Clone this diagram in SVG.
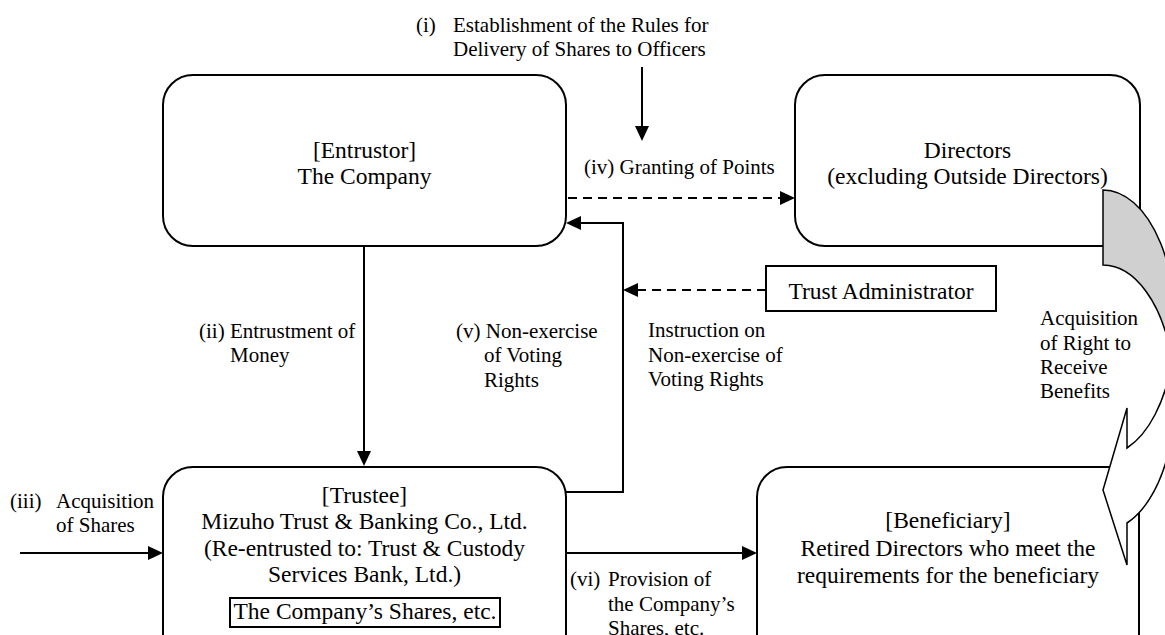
<svg xmlns="http://www.w3.org/2000/svg" width="1165" height="635" viewBox="0 0 1165 635">
<style>
  .node { fill: #ffffff; stroke: #000000; stroke-width: 2; }
  .t { font-family: "Liberation Serif", "Times New Roman", serif; font-size: 23.5px; fill: #000000; }
  .c { text-anchor: middle; }
  .lbl { font-family: "Liberation Serif", "Times New Roman", serif; font-size: 21px; fill: #000000; }
  .edge { fill: none; stroke: #000000; stroke-width: 2; }
  .dash { stroke-dasharray: 9 6; }
  .shape { stroke: #000000; stroke-width: 1.5; stroke-linejoin: miter; }
</style>
<defs>
  <marker id="ah" markerUnits="userSpaceOnUse" markerWidth="16" markerHeight="16" viewBox="0 -8 16 16" refX="1" refY="0" orient="auto">
    <path d="M0,-7 L15,0 L0,7 Z" fill="#000000"/>
  </marker>
</defs>
<rect width="1165" height="635" fill="#ffffff"/>

<g id="label-i">
  <text class="lbl" x="416" y="32">(i)</text>
  <text class="lbl" x="453" y="32">Establishment of the Rules for</text>
  <text class="lbl" x="453" y="56">Delivery of Shares to Officers</text>
</g>

<g id="node-entrustor">
  <rect class="node" x="163" y="75" width="403" height="171" rx="30" ry="30"/>
  <text class="t c" x="364.5" y="158">[Entrustor]</text>
  <text class="t c" x="364.5" y="184">The Company</text>
</g>

<g id="node-directors">
  <rect class="node" x="795" y="75" width="345" height="171" rx="30" ry="30"/>
  <text class="t c" x="967.5" y="158">Directors</text>
  <text class="t c" x="967.5" y="184">(excluding Outside Directors)</text>
</g>

<g id="node-trust-administrator">
  <rect class="node" x="766" y="266" width="230" height="45"/>
  <text class="t c" x="881" y="299">Trust Administrator</text>
</g>

<g id="node-trustee">
  <rect class="node" x="163" y="467" width="403" height="200" rx="30" ry="30"/>
  <text class="t c" x="364.5" y="503">[Trustee]</text>
  <text class="t c" x="364.5" y="529">Mizuho Trust &amp; Banking Co., Ltd.</text>
  <text class="t c" x="364.5" y="556">(Re-entrusted to: Trust &amp; Custody</text>
  <text class="t c" x="364.5" y="582">Services Bank, Ltd.)</text>
  <rect class="node" x="230" y="598" width="270" height="29"/>
  <text class="t c" x="365" y="619">The Company’s Shares, etc.</text>
</g>

<g id="node-beneficiary">
  <rect class="node" x="757" y="467" width="382" height="200" rx="30" ry="30"/>
  <text class="t c" x="948" y="528">[Beneficiary]</text>
  <text class="t c" x="948" y="556">Retired Directors who meet the</text>
  <text class="t c" x="948" y="583">requirements for the beneficiary</text>
</g>

<g id="connectors">
  <line class="edge" x1="642" y1="67" x2="642" y2="127" marker-end="url(#ah)"/>
  <line class="edge dash" x1="568" y1="198" x2="781" y2="198" marker-end="url(#ah)"/>
  <line class="edge" x1="364" y1="246" x2="364" y2="452" marker-end="url(#ah)"/>
  <path class="edge" d="M566,492 H623 V223 H580" marker-end="url(#ah)"/>
  <line class="edge dash" x1="766" y1="290" x2="637" y2="290" marker-end="url(#ah)"/>
  <line class="edge" x1="20" y1="553" x2="149" y2="553" marker-end="url(#ah)"/>
  <line class="edge" x1="566" y1="553" x2="743" y2="553" marker-end="url(#ah)"/>
</g>

<g id="benefit-arrow">
  <path class="shape" fill="#d0d0d0" d="M1103,190 A72,133 0 0 1 1172.08,360.5 A72,133 0 0 0 1103,265 Z"/>
  <path class="shape" fill="#ffffff" d="M1127,448 L1127,408 L1103,490 L1127,565 L1127,523 A72,133 0 0 0 1172.08,360.5 A72,133 0 0 1 1127,448 Z"/>
</g>

<g id="edge-labels">
  <text class="lbl" x="584" y="174">(iv) Granting of Points</text>
  <text class="lbl" x="199" y="338">(ii) Entrustment of</text>
  <text class="lbl" x="230" y="362">Money</text>
  <text class="lbl" x="456" y="338">(v) Non-exercise</text>
  <text class="lbl" x="484" y="362">of Voting</text>
  <text class="lbl" x="484" y="387">Rights</text>
  <text class="lbl" x="648" y="337">Instruction on</text>
  <text class="lbl" x="648" y="362">Non-exercise of</text>
  <text class="lbl" x="648" y="386">Voting Rights</text>
  <text class="lbl" x="10" y="508">(iii)</text>
  <text class="lbl" x="56" y="508">Acquisition</text>
  <text class="lbl" x="56" y="532">of Shares</text>
  <text class="lbl" x="570" y="586">(vi)</text>
  <text class="lbl" x="608" y="586">Provision of</text>
  <text class="lbl" x="608" y="611">the Company’s</text>
  <text class="lbl" x="608" y="635">Shares, etc.</text>
  <text class="lbl" x="1040" y="325">Acquisition</text>
  <text class="lbl" x="1040" y="350">of Right to</text>
  <text class="lbl" x="1040" y="374">Receive</text>
  <text class="lbl" x="1040" y="398">Benefits</text>
</g>
</svg>
